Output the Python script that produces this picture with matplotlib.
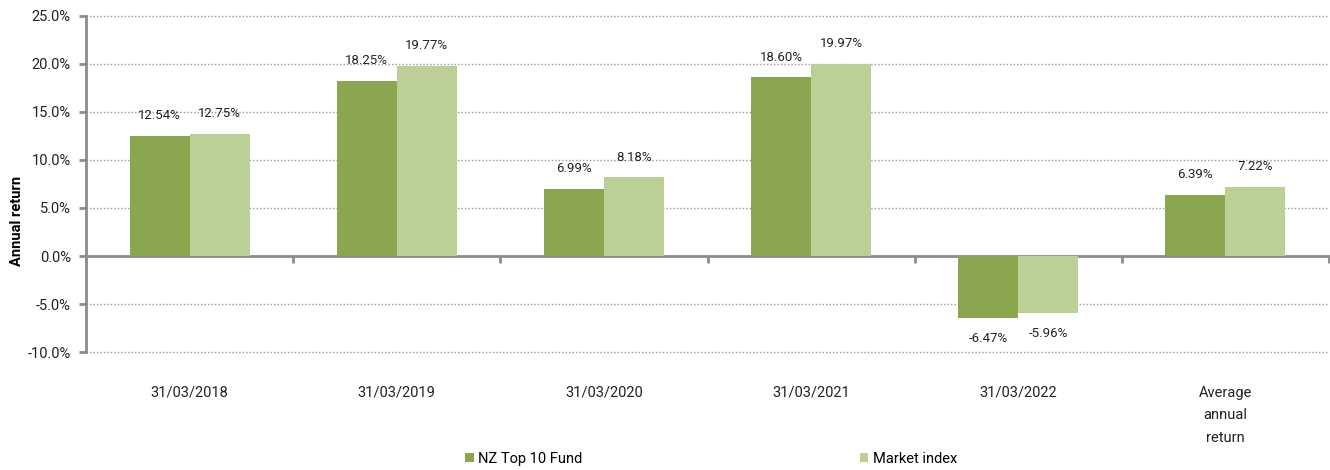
import matplotlib.pyplot as plt
import numpy as np

plt.rcParams['font.family'] = ['Roboto', 'DejaVu Sans']

categories = ['31/03/2018', '31/03/2019', '31/03/2020', '31/03/2021', '31/03/2022',
              'Average\nannual\nreturn']
fund = [12.54, 18.25, 6.99, 18.60, -6.47, 6.39]
market = [12.75, 19.77, 8.18, 19.97, -5.96, 7.22]
series_names = ['NZ Top 10 Fund', 'Market index']
yticks = [-10, -5, 0, 5, 10, 15, 20, 25]

dark = '#8aa64f'
light = '#bbd097'
axis_grey = '#8c8c8c'

fig = plt.figure(figsize=(13.3, 4.7), dpi=100)
ax = fig.add_axes([86/1330, 1-352/470, 1243/1330, 336/470])

x = np.arange(len(categories))
w = 0.29
b1 = ax.bar(x - w/2, fund, w, color=dark, label=series_names[0], zorder=3)
b2 = ax.bar(x + w/2, market, w, color=light, label=series_names[1], zorder=3)

# data labels
for bars, vals in [(b1, fund), (b2, market)]:
    for r, v in zip(bars, vals):
        cx = r.get_x() + r.get_width()/2
        if v >= 0:
            ax.annotate(f'{v:.2f}%', (cx, v), xytext=(0, 10), textcoords='offset points',
                        ha='center', va='bottom', fontsize=9.5, color='#222222')
        else:
            ax.annotate(f'{v:.2f}%', (cx, v), xytext=(0, -10), textcoords='offset points',
                        ha='center', va='top', fontsize=9.5, color='#222222')

ax.set_xlim(-0.5, len(categories) - 0.5)
ax.set_ylim(-10, 25)
ax.set_yticks(yticks)
ax.set_yticklabels([f'{t:.1f}%' for t in yticks], fontsize=10.5, color='#222222')
ax.yaxis.grid(True, linestyle=(0, (1, 1.5)), color='#9a9a9a', linewidth=1, zorder=0)
for gl in ax.get_ygridlines():
    gl.set_clip_on(False)

# x axis at zero, ticks between categories
ax.spines['bottom'].set_position(('data', 0))
ax.set_xticks(np.arange(len(categories) + 1) - 0.5)
ax.set_xticklabels([])
ax.tick_params(axis='x', length=5, width=2, color=axis_grey, direction='out')
ax.tick_params(axis='y', length=5, width=2, color=axis_grey, pad=6)
for s in ['bottom', 'left']:
    ax.spines[s].set_color(axis_grey)
    ax.spines[s].set_linewidth(2)
for s in ['top', 'right']:
    ax.spines[s].set_visible(False)

for xi, lab in zip(x, categories):
    ax.text(xi, -0.1, lab, transform=ax.get_xaxis_transform(), ha='center', va='top',
            fontsize=10.5, color='#222222', linespacing=1.8)

ax.set_ylabel('Annual return', fontsize=10.5, fontweight='bold')
ax.yaxis.set_label_coords(-0.05, 0.39)

fig.legend(handles=[b1, b2], labels=series_names, loc='center', bbox_to_anchor=(711/1330, 1-459/470),
           ncol=2, frameon=False, fontsize=10.5, handlelength=0.6, handleheight=0.6,
           handletextpad=0.3, columnspacing=19)

plt.savefig('out.png', dpi=100)
